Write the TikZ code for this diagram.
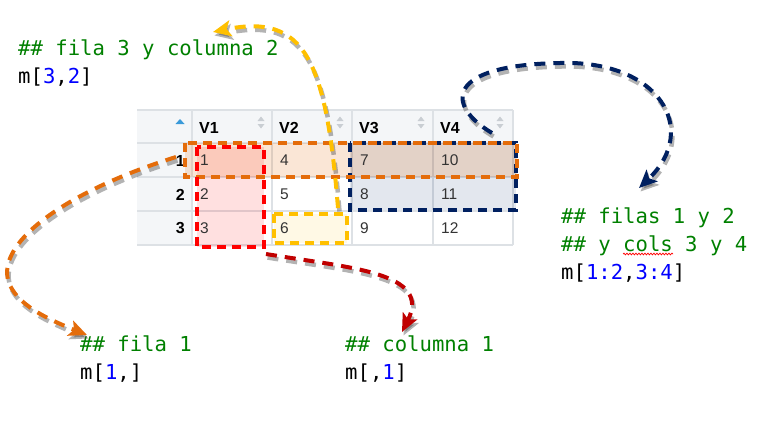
\documentclass[tikz,border=0pt]{standalone}
\usepackage{fontspec}
\setmainfont{Liberation Sans}
\newfontfamily\codefont{DejaVu Sans Mono}
\usepackage{xcolor}
\usepackage{tikz}
\usetikzlibrary{arrows.meta,decorations.pathmorphing,positioning}
\definecolor{codegreen}{HTML}{008000}
\definecolor{codeblue}{HTML}{0000FF}
\definecolor{orng}{HTML}{E46C0A}
\definecolor{redd}{HTML}{FF0000}
\definecolor{darkred}{HTML}{C00000}
\definecolor{yel}{HTML}{FFC000}
\definecolor{navy}{HTML}{002060}
\definecolor{headbg}{HTML}{F4F6F8}
\definecolor{gridc}{HTML}{DDE1E5}
\definecolor{celltext}{HTML}{333333}
\definecolor{sortc}{HTML}{C9CED3}
\definecolor{sortblue}{HTML}{3A9AD9}
\tikzset{
  gridline/.style={draw=gridc, line width=1.5pt},
  head/.style={font=\fontsize{16}{19}\selectfont\bfseries, anchor=west, inner sep=0pt},
  cell/.style={font=\fontsize{15.5}{18}\selectfont, text=celltext, anchor=west, inner sep=0pt},
  rowlab/.style={font=\fontsize{16}{19}\selectfont\bfseries, anchor=east, inner sep=0pt},
  selbox/.style={draw=#1, line width=3.2pt, dash pattern=on 9pt off 6pt},
  link/.style={draw=#1, line width=4pt, dash pattern=on 11pt off 8pt,
    -{Stealth[length=18pt,width=16pt,inset=4pt]},
    preaction={draw=black!75, opacity=.4, line width=4.5pt, dash pattern=on 11pt off 8pt,
      -{Stealth[length=18pt,width=16pt,inset=4pt]},
      transform canvas={shift={(1.5,3.5)}}}},
  code/.style={font=\codefont\fontsize{20.6}{24}\selectfont, text=codegreen, anchor=base west, inner sep=0pt},
  codeb/.style={code, text=black},
  spell/.style={draw=red, line width=0.7pt, decorate,
    decoration={snake, segment length=3pt, amplitude=0.9pt}}
}
\newcommand{\cnum}[1]{\textcolor{codeblue}{#1}}

\begin{document}
\begin{tikzpicture}[x=1pt,y=-1pt]
  \useasboundingbox (0,0) rectangle (761,431);

  % table
  \fill[headbg] (137,110) rectangle (513,143);
  \fill[headbg] (137,143) rectangle (192,245);
  \foreach \y in {110,143,177,211,245} \draw[gridline] (137,\y) -- (513,\y);
  \foreach \x in {192,272,352,433,513} \draw[gridline] (\x,110) -- (\x,245);

  % selections (fill)
  \fill[navy,opacity=.11] (350,143) rectangle (516,210);
  \fill[orng,opacity=.17] (185,143) rectangle (517,177);
  \fill[redd,opacity=.12] (197,147) rectangle (264,247);
  \fill[yel,opacity=.1] (274,214) rectangle (347,243);

  % headers and cells
  \fill[sortblue] (175.5,124) -- (184.5,124) -- (180,119) -- cycle;
  \foreach \c/\x/\s in {1/199/261,2/279/340,3/359/421,4/440/500}{
    \node[head] (h\c) at (\x,128) {V\c};
    \fill[sortc] (\s-3.5,121) -- (\s+3.5,121) -- (\s,116.5) -- cycle;
    \fill[sortc] (\s-3.5,124) -- (\s+3.5,124) -- (\s,128.5) -- cycle;
  }
  \foreach \r in {1,2,3}{
    \node[rowlab] (r\r) at (185,{143+34*(\r-1)+17.5}) {\r};
    \foreach \c/\x in {1/200,2/280,3/360,4/441}{
      \pgfmathtruncatemacro{\v}{3*(\c-1)+\r}
      \node[cell] (c\r\c) at (\x,{143+34*(\r-1)+17.5}) {\v};
    }
  }

  % selections (border)
  \draw[selbox=navy] (350,143) rectangle (516,210);
  \draw[selbox=orng] (185,143) rectangle (517,177);
  \draw[selbox=redd] (197,147) rectangle (264,247);
  \draw[selbox=yel] (274,214) rectangle (347,243);

  % code
  \node[code] (q32a) at (18,55) {\#\# fila 3 y columna 2};
  \node[codeb] (q32b) at (18,83) {m[\cnum{3},\cnum{2}]};
  \node[code] (q1234a) at (561,223) {\#\# filas 1 y 2};
  \node[code] (q1234b) at (561,251) {\#\# y cols 3 y 4};
  \node[codeb] (q1234c) at (561,279) {m[\cnum{1:2},\cnum{3:4}]};
  \node[code] (q1a) at (80,351) {\#\# fila 1};
  \node[codeb] (q1b) at (80,379) {m[\cnum{1},]};
  \node[code] (qc1a) at (345,351) {\#\# columna 1};
  \node[codeb] (qc1b) at (345,379) {m[,\cnum{1}]};
  \draw[spell] ([shift={(62,3)}]q1234b.base west) -- ++(50,0);

  % arrows
  \coordinate (s32) at (338,208);
  \coordinate (e32) at ([shift={(195,-23)}]q32a.base west);
  \coordinate (s1234) at (492,133);
  \coordinate (e1234) at ([shift={(78,-35)}]q1234a.base west);
  \coordinate (s1) at (176,157);
  \coordinate (e1) at ([shift={(7,-16)}]q1a.base west);
  \coordinate (sc1) at (266,254);
  \coordinate (ec1) at ([shift={(57,-19)}]qc1a.base west);

  \draw[link=yel] (s32) .. controls (326,60) and (305,13) .. (e32);
  \draw[link=navy] (s1234) .. controls (445,105) and (445,65) .. (560,63)
    .. controls (660,60) and (700,130) .. (e1234);
  \draw[link=orng] (s1) .. controls (70,190) and (-2,240) .. (8,280)
    .. controls (15,305) and (50,320) .. (e1);
  \draw[link=darkred] (sc1) .. controls (350,268) and (432,272) .. (ec1);
\end{tikzpicture}
\end{document}
